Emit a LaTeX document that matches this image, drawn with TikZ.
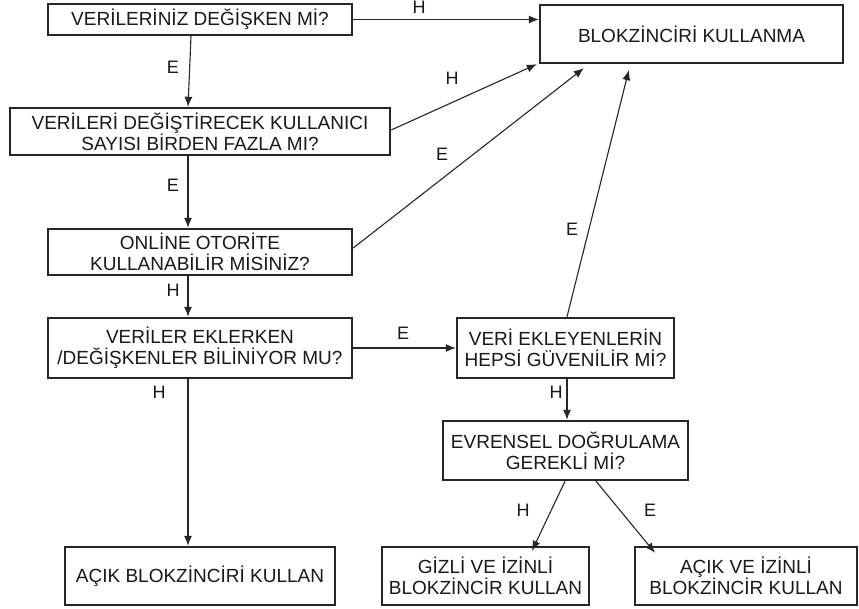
\documentclass[tikz,border=0pt]{standalone}
\usepackage{fontspec}
\setmainfont{Liberation Sans}
\usetikzlibrary{arrows.meta}
\begin{document}
\begin{tikzpicture}[x=1pt,y=-1pt,
  box/.style={draw=black!85,line width=2.4pt,inner sep=0pt,align=center,
    font=\fontsize{19}{21}\selectfont,text=black!90},
  arr/.style={draw=black!85,line width=1.1pt,-{Latex[length=10pt,width=8pt]}},
  lbl/.style={font=\fontsize{18}{20}\selectfont,text=black!90,inner sep=0pt}]
\useasboundingbox[fill=white] (0,0) rectangle (859,609);
\node[box,minimum width=304pt,minimum height=31pt] (b1) at (200,19.5) {VERİLERİNİZ DEĞİŞKEN Mİ?};
\node[box,minimum width=380pt,minimum height=47pt] (b2) at (200,131.5) {VERİLERİ DEĞİŞTİRECEK KULLANICI\\SAYISI BİRDEN FAZLA MI?};
\node[box,minimum width=304pt,minimum height=46pt] (b3) at (200,252) {ONLİNE OTORİTE\\KULLANABİLİR MİSİNİZ?};
\node[box,minimum width=304pt,minimum height=60pt] (b4) at (200,348) {VERİLER EKLERKEN\\/DEĞİŞKENLER BİLİNİYOR MU?};
\node[box,minimum width=270pt,minimum height=58pt] (b5) at (200,576) {AÇIK BLOKZİNCİRİ KULLAN};
\node[box,minimum width=303pt,minimum height=58pt] (blok) at (691.5,34) {BLOKZİNCİRİ KULLANMA};
\node[box,minimum width=217pt,minimum height=60pt] (veri) at (565.5,348) {VERİ EKLEYENLERİN\\HEPSİ GÜVENİLİR Mİ?};
\node[box,minimum width=245pt,minimum height=59pt] (evr) at (565.5,450.5) {EVRENSEL DOĞRULAMA\\GEREKLİ Mİ?};
\node[box,minimum width=207pt,minimum height=58pt] (gizli) at (485.5,576) {GİZLİ VE İZİNLİ\\BLOKZİNCİR KULLAN};
\node[box,minimum width=222pt,minimum height=58pt] (acikv) at (746,576) {AÇIK VE İZİNLİ\\BLOKZİNCİR KULLAN};

\draw[arr] ([xshift=-9pt]b1.south) -- ([xshift=-12pt]b2.north);
\draw[arr] ([xshift=-12pt]b2.south) -- ([xshift=-12pt]b3.north);
\draw[arr] ([xshift=-12pt]b3.south) -- ([xshift=-12pt]b4.north);
\draw[arr] ([xshift=-12pt]b4.south) -- ([xshift=-12pt]b5.north);
\draw[arr] (b1.east) -- (b1.east -| blok.west);
\draw[arr] ([yshift=1.5pt]b2.east) -- ([xshift=-2pt]blok.south west);
\draw[arr] ([yshift=4pt]b3.east) -- ([xshift=45pt,yshift=-4pt]blok.south west);
\draw[arr] ([xshift=1.5pt]veri.north) -- ([xshift=90pt,yshift=-6pt]blok.south west);
\draw[arr] (b4.east) -- (veri.west);
\draw[arr] ([xshift=1.5pt]veri.south) -- ([xshift=1.5pt]evr.north);
\draw[arr] ([xshift=-0.5pt]evr.south) -- ([xshift=46.5pt,yshift=-5pt]gizli.north);
\draw[arr] ([xshift=30.5pt]evr.south) -- ([xshift=-91pt,yshift=-7pt]acikv.north);

\node[lbl] (l1) at (173,67) {E};
\node[lbl] (l2) at (173,185) {E};
\node[lbl] (l3) at (173,290) {H};
\node[lbl] (l4) at (159,392) {H};
\node[lbl] (l5) at (419,7.5) {H};
\node[lbl] (l6) at (452,78) {H};
\node[lbl] (l7) at (442,154) {E};
\node[lbl] (l8) at (572,229) {E};
\node[lbl] (l9) at (403,333) {E};
\node[lbl] (l10) at (556,392) {H};
\node[lbl] (l11) at (523,510) {H};
\node[lbl] (l12) at (650,510) {E};
\end{tikzpicture}
\end{document}
